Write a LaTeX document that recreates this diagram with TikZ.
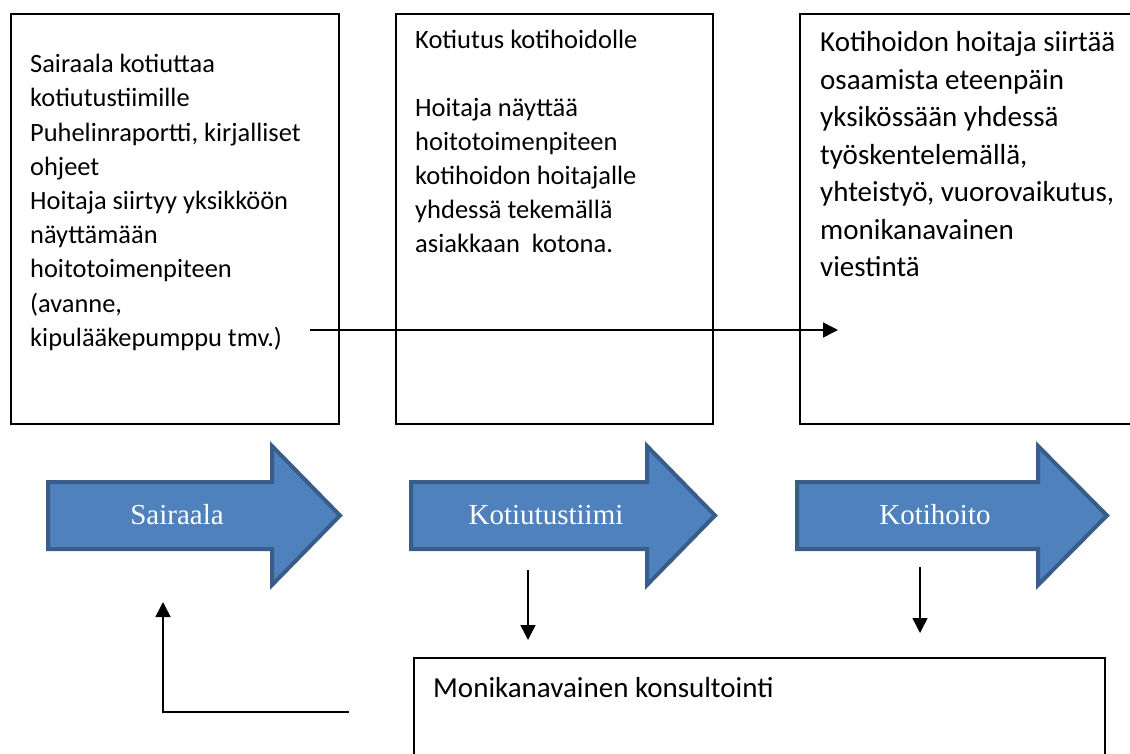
\documentclass[tikz,border=0pt]{standalone}
\usepackage{fontspec}
\setmainfont{Carlito}
\newfontfamily\arrowfont{Liberation Serif}
\usetikzlibrary{arrows.meta}
\definecolor{stepblue}{RGB}{79,129,189}
\definecolor{stepedge}{RGB}{56,93,138}

\begin{document}
\begin{tikzpicture}[x=1pt,y=-1pt,line join=miter,
  box/.style={draw,line width=1.6pt,anchor=north west,inner sep=0pt},
  boxtext/.style={anchor=base west,align=left,inner sep=0pt},
  link/.style={line width=1.5pt,-{Triangle[length=15pt,width=15pt]}},
  flow/.style={fill=stepblue,draw=stepedge,line width=4pt},
  flowtext/.style={text=white,inner sep=0pt,font=\arrowfont\fontsize{29}{34}\selectfont}]
\useasboundingbox (0,0) rectangle (1130,754);
\node[box,minimum width=328pt,minimum height=410pt] (hospital) at (10,13) {};
\node[box,minimum width=317pt,minimum height=410pt] (team) at (395,13) {};
\node[box,minimum width=345pt,minimum height=410pt] (homecare) at (799,13) {};
\node[box,minimum width=691pt,minimum height=120pt] (consult) at (413,657) {};
% the base anchor sits on the last line
\node[boxtext,font=\fontsize{26.4}{34.2}\selectfont] (hospitaltext) at (30,346.3)
  {Sairaala kotiuttaa\\ kotiutustiimille\\ Puhelinraportti, kirjalliset\\ ohjeet\\
   Hoitaja siirtyy yksikköön\\ näyttämään\\ hoitotoimenpiteen\\ (avanne,\\ kipulääkepumppu tmv.)};
\node[boxtext,font=\fontsize{26.5}{34}\selectfont] (teamtext) at (415,252)
  {Kotiutus kotihoidolle\\[34pt] Hoitaja näyttää\\ hoitotoimenpiteen\\ kotihoidon hoitajalle\\
   yhdessä tekemällä\\ asiakkaan\ \ kotona.};
\node[boxtext,font=\fontsize{29}{37.5}\selectfont] (homecaretext) at (820,276.7)
  {Kotihoidon hoitaja siirtää\\ osaamista eteenpäin\\ yksikössään yhdessä\\ työskentelemällä,\\
   yhteistyö, vuorovaikutus,\\ monikanavainen\\ viestintä};
\node[boxtext,font=\fontsize{29}{35}\selectfont] (consulttext) at (433,697) {Monikanavainen konsultointi};
\draw[flow] (48,482) -- (272,482) -- (272,446) -- (340,515.5) -- (272,585) -- (272,549) -- (48,549) -- cycle;
\node[flowtext] (sairaala) at (177,515) {Sairaala};
\draw[flow] (411,482) -- (647,482) -- (647,446) -- (715,515.5) -- (647,585) -- (647,549) -- (411,549) -- cycle;
\node[flowtext] (kotiutustiimi) at (546,515) {Kotiutustiimi};
\draw[flow] (797,482) -- (1038,482) -- (1038,446) -- (1107,515.5) -- (1038,585) -- (1038,549) -- (797,549) -- cycle;
\node[flowtext] (kotihoito) at (935,515) {Kotihoito};
\coordinate (handoverstart) at (310,330);
\coordinate (handoverend) at (838,330);
\draw[link] (handoverstart) -- (handoverend);
\coordinate (teamdownstart) at (528,570);
\coordinate (teamdownend) at (528,640);
\draw[link] (teamdownstart) -- (teamdownend);
\coordinate (caredownstart) at (920,567);
\coordinate (caredownend) at (920,633);
\draw[link] (caredownstart) -- (caredownend);
\coordinate (backstart) at (349,712);
\coordinate (backend) at (163,602);
\draw[link] (backstart) -| (backend);
\end{tikzpicture}
\end{document}
